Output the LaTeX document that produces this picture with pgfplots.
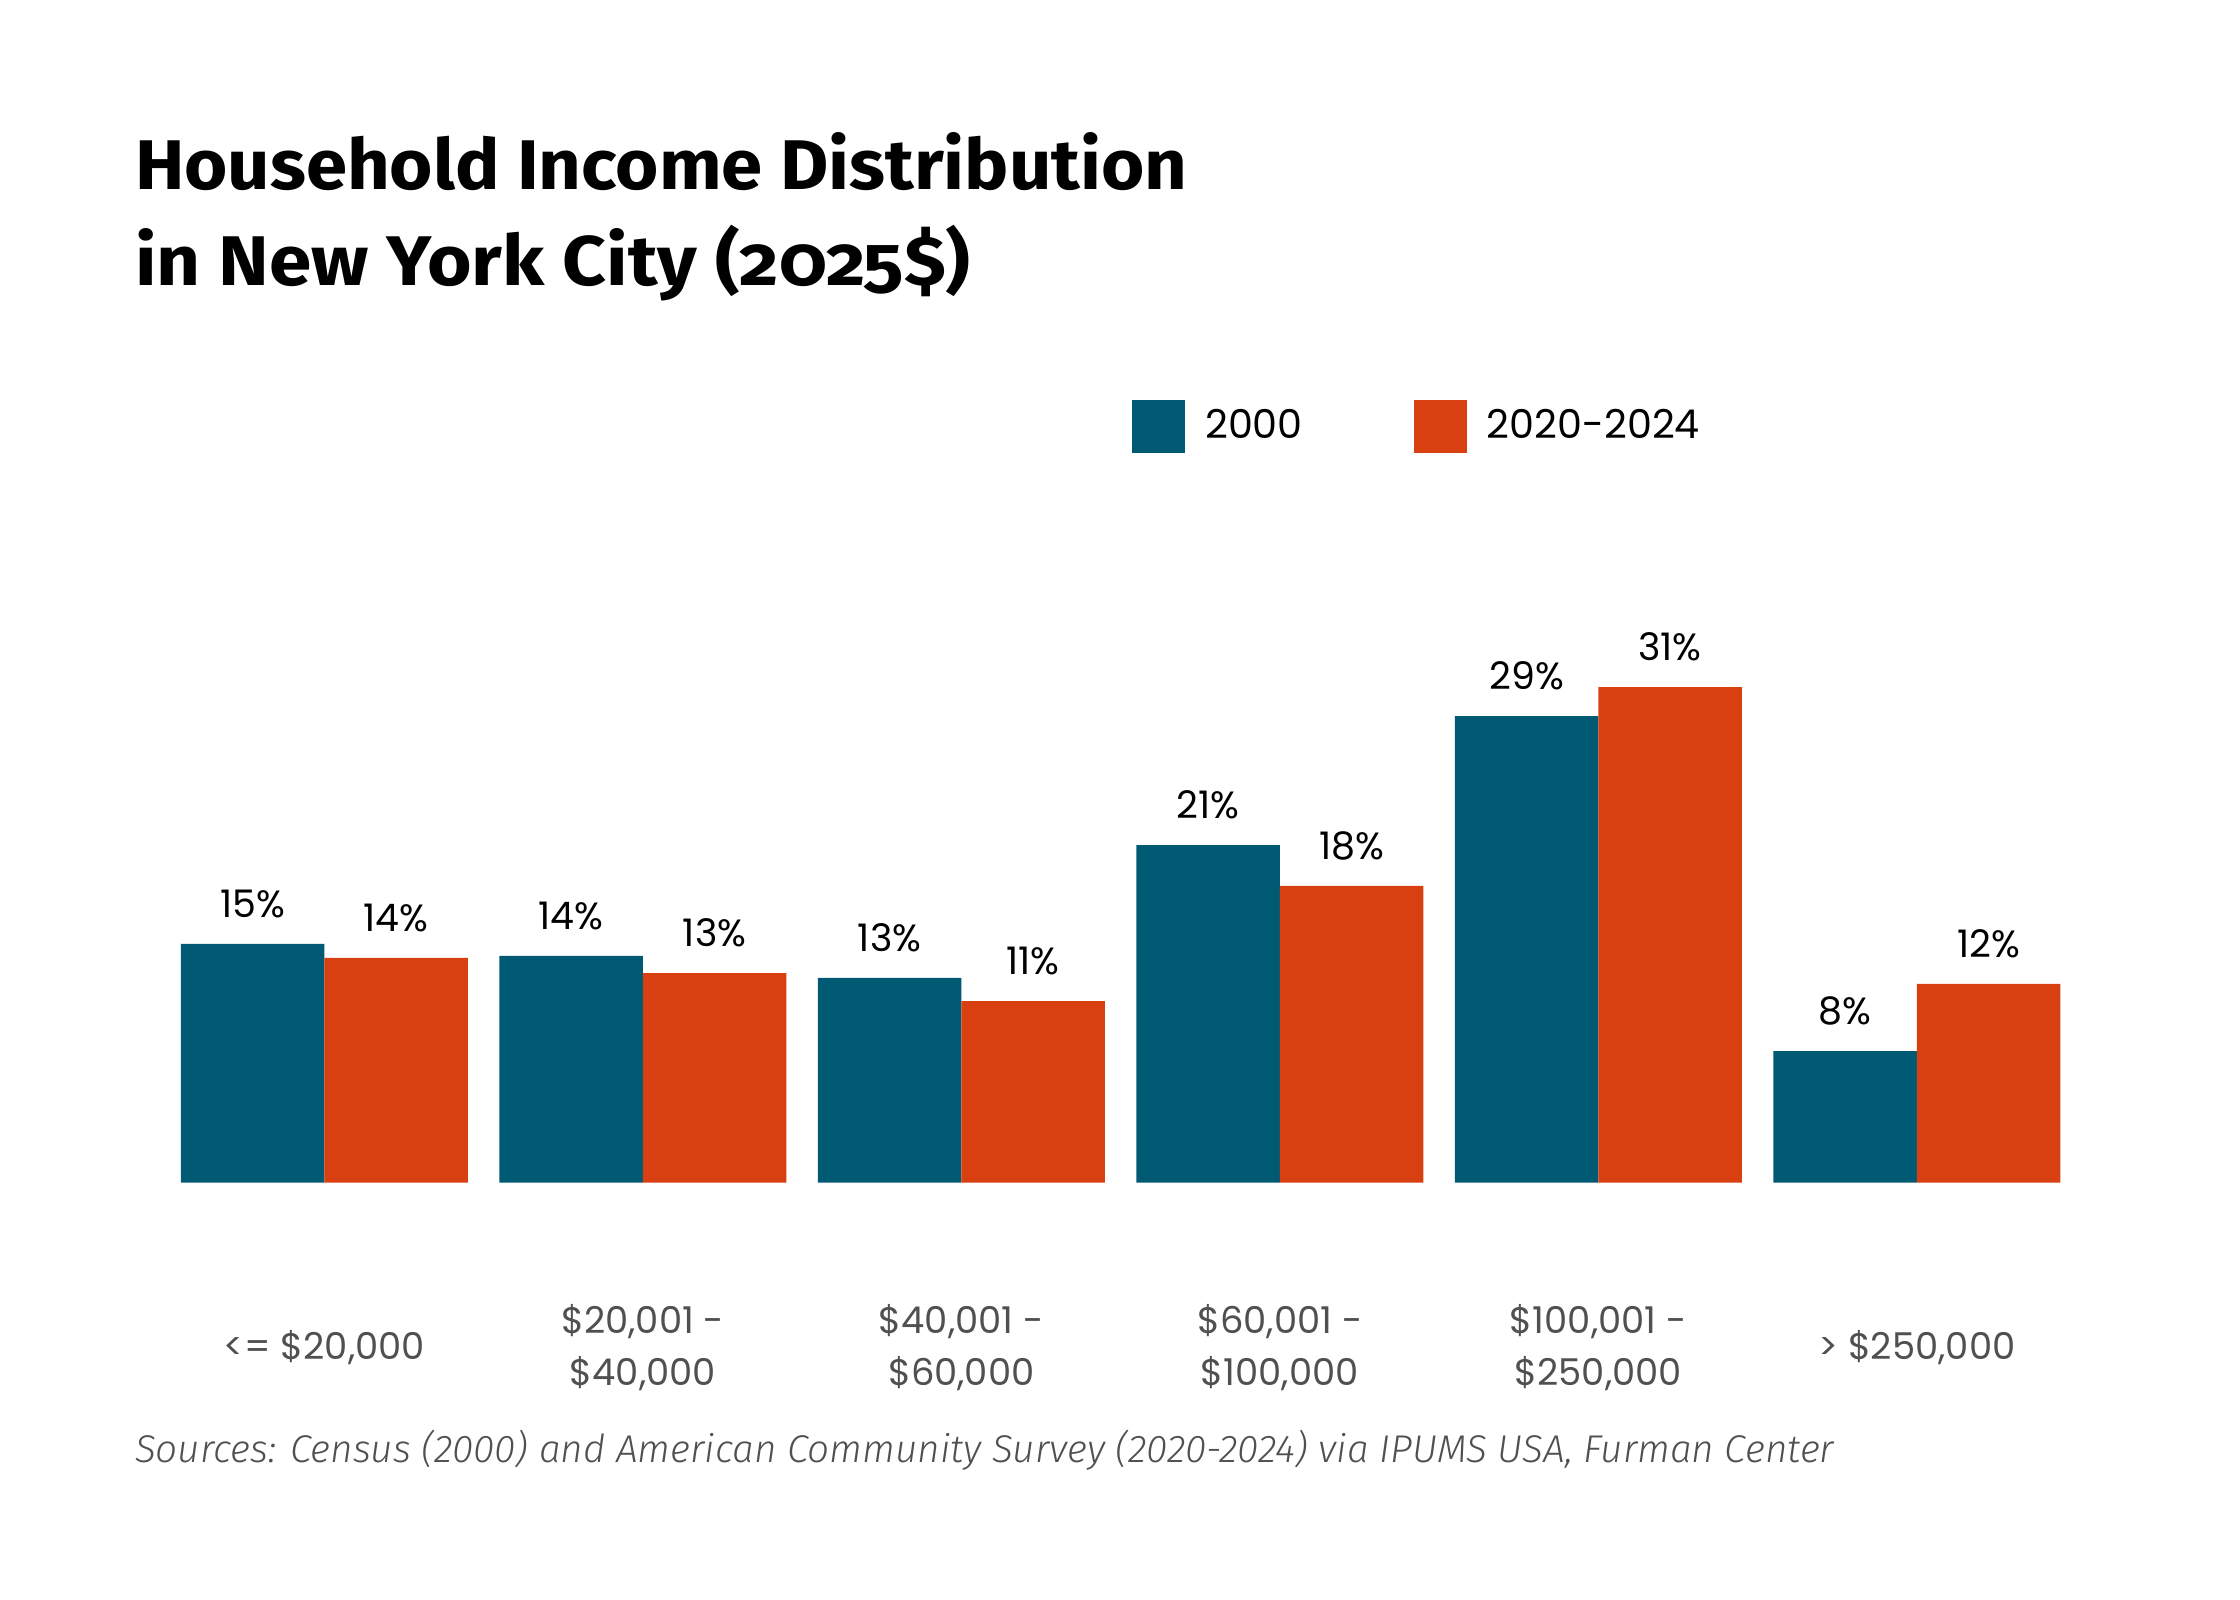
\documentclass[border=0pt]{standalone}
\usepackage{pgfplots}
\pgfplotsset{compat=1.18}
\usepackage{fontspec}
\setmainfont{Fira Sans}
\newfontfamily\titlefont{Fira Sans}[Numbers=OldStyle]
\newfontfamily\srcfont{Fira Sans Light Italic}
\newfontfamily\geofont{Poppins}
\definecolor{cblue}{HTML}{005A74}
\definecolor{corange}{HTML}{D84012}
\definecolor{tgray}{HTML}{505050}
\begin{document}
\begin{tikzpicture}
\fill[white] (0,0) rectangle (22.4cm,16cm);
\path[use as bounding box] (0,0) rectangle (22.4cm,16cm);
\node[anchor=base west, inner sep=0pt, font=\titlefont\bfseries\fontsize{20}{24}\selectfont] at (1.343cm,14.10cm) {\scalebox{1.056}[1]{Household Income Distribution}};
\node[anchor=base west, inner sep=0pt, font=\titlefont\bfseries\fontsize{20}{24}\selectfont] at (1.343cm,13.143cm) {\scalebox{1.087}[1]{in New York City (2025\$)}};
\node[anchor=base west, inner sep=0pt, text=tgray, font=\srcfont\fontsize{11}{13}\selectfont] at (1.343cm,1.371cm) {Sources: Census (2000) and American Community Survey (2020-2024) via IPUMS USA, Furman Center};
\begin{axis}[
 at={(1.6505cm,4.173cm)}, anchor=south west,
 scale only axis, width=19.11cm, height=5.6875cm,
 xmin=-0.5, xmax=5.5, ymin=0, ymax=35,
 ybar, bar width=0.4505,
 axis line style={draw=none}, tick style={draw=none}, ytick=\empty,
 xtick={0,...,5},
 xticklabels={{<= \$20,000},{\$20,001 -\\\$40,000},{\$40,001 -\\\$60,000},{\$60,001 -\\\$100,000},{\$100,001 -\\\$250,000},{> \$250,000}},
 xticklabel style={anchor=center, yshift=-1.498cm, align=center, font=\geofont\fontsize{10.5}{14.6}\selectfont, text=tgray},
 clip=false,
 point meta=explicit symbolic,
 nodes near coords,
 nodes near coords style={anchor=south, inner sep=0pt, yshift=0.25cm, font=\geofont\fontsize{10.8}{12}\selectfont, text=black},
 legend columns=2,
 legend style={at={(0.5057,1.3298)}, anchor=west, draw=none, fill=none, inner sep=0pt, font=\geofont\fontsize{11.3}{13}\selectfont,
   /tikz/every odd column/.append style={column sep=0.13cm},
   /tikz/every even column/.append style={column sep=1.04cm}},
 legend image code/.code={\fill[#1] (0cm,-0.265cm) rectangle (0.53cm,0.265cm);},
]
\addplot[fill=cblue, draw=none, bar shift=-0.22525] coordinates {
 (0,14.69) [15\%]
 (1,13.95) [14\%]
 (2,12.60) [13\%]
 (3,20.78) [21\%]
 (4,28.71) [29\%]
 (5,8.10) [8\%]
};
\addplot[fill=corange, draw=none, bar shift=0.22525] coordinates {
 (0,13.83) [14\%]
 (1,12.90) [13\%]
 (2,11.18) [11\%]
 (3,18.26) [18\%]
 (4,30.50) [31\%]
 (5,12.23) [12\%]
};
\legend{2000,2020-2024}
\end{axis}
\end{tikzpicture}
\end{document}
